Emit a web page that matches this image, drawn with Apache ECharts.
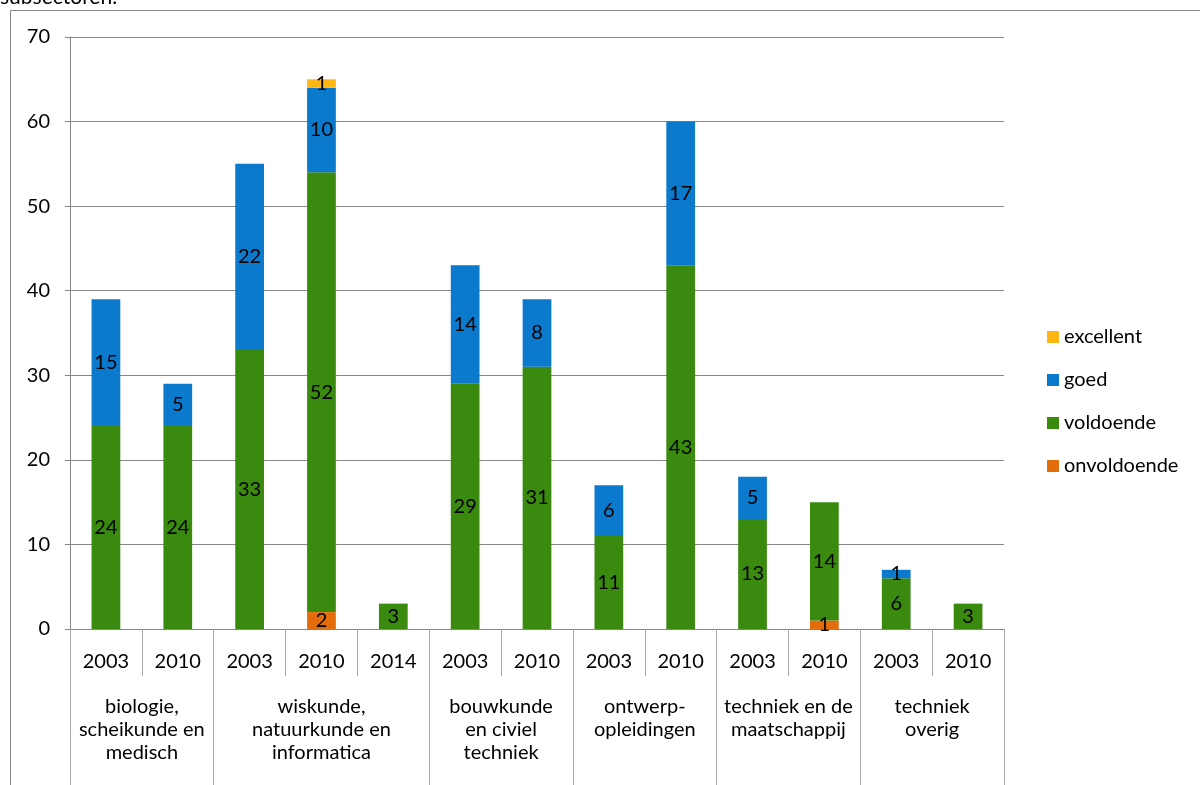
<!DOCTYPE html>
<html>
<head>
<meta charset="utf-8">
<script src="https://cdn.jsdelivr.net/npm/echarts@6/dist/echarts.min.js"></script>
<style>html,body{margin:0;padding:0;background:#fff}#c{width:1200px;height:785px}</style>
</head>
<body>
<div id="c"></div>
<script>
const years = ['2003','2010','2003','2010','2014','2003','2010','2003','2010','2003','2010','2003','2010'];
const groups = ['biologie,\nscheikunde en\nmedisch','wiskunde,\nnatuurkunde en\ninformatica','bouwkunde\nen civiel\ntechniek','ontwerp-\nopleidingen','techniek en de\nmaatschappij','techniek\noverig'];
const groupSizes = [2,3,2,2,2,2];
const onvoldoende = [null,null,null,2,null,null,null,null,null,null,1,null,null];
const voldoende   = [24,24,33,52,3,29,31,11,43,13,14,6,3];
const goed        = [15,5,22,10,null,14,8,6,17,5,null,1,null];
const excellent   = [null,null,null,1,null,null,null,null,null,null,null,null,null];
const yTicks = [0,10,20,30,40,50,60,70];

const FONT = 'Lato';
const FS = 20;
const chart = echarts.init(document.getElementById('c'));

const bounds = [0]; const centers = [];
groupSizes.forEach(s => { const b = bounds[bounds.length-1]; centers.push(b + s/2); bounds.push(b + s); });

function mk(name, data, color) {
  return {
    name, type: 'bar', stack: 'a', data, barWidth: '40%',
    itemStyle: { color },
    label: { show: true, position: 'inside', color: '#000', fontFamily: FONT, fontSize: FS,
      formatter: p => (p.value == null ? '' : p.value) }
  };
}

chart.setOption({
  animation: false,
  textStyle: { fontFamily: FONT },
  graphic: [
    { type: 'rect', shape: { x: 10.5, y: 10.5, width: 1250, height: 800 }, style: { fill: 'none', stroke: '#868686', lineWidth: 1 }, silent: true },
    { type: 'text', x: 0, y: -13, style: { text: 'subsectoren.', fontFamily: FONT, fontSize: 21, fill: '#000' } }
  ],
  grid: { left: 70, right: 196, top: 37, bottom: 156 },
  legend: {
    orient: 'vertical', left: 1042, top: 322, itemWidth: 12, itemHeight: 12, itemGap: 23,
    icon: 'rect', textStyle: { fontFamily: FONT, fontSize: FS, color: '#000' },
    data: ['excellent','goed','voldoende','onvoldoende']
  },
  xAxis: [
    { type: 'category', data: years, position: 'bottom',
      axisLine: { lineStyle: { color: '#868686' } },
      axisTick: { show: true, length: 47, interval: 0, lineStyle: { color: '#a6a6a6' } },
      axisLabel: { interval: 0, margin: 23, color: '#000', fontFamily: FONT, fontSize: FS } },
    { type: 'value', min: 0, max: years.length, position: 'bottom',
      axisLine: { show: false },
      splitLine: { show: false },
      axisTick: { show: true, customValues: bounds, length: 156, lineStyle: { color: '#a6a6a6' } },
      axisLabel: { customValues: centers, margin: 66, color: '#000', fontFamily: FONT, fontSize: FS, lineHeight: 23,
        align: 'center', verticalAlign: 'top',
        formatter: v => { const i = centers.indexOf(v); return i >= 0 ? groups[i] : ''; } } }
  ],
  yAxis: {
    type: 'value', min: 0, max: 70, interval: 10,
    axisLine: { show: true, lineStyle: { color: '#868686' } },
    axisTick: { show: true, length: 5, lineStyle: { color: '#868686' } },
    splitLine: { lineStyle: { color: '#868686' } },
    axisLabel: { margin: 20, color: '#000', fontFamily: FONT, fontSize: FS,
      formatter: v => (yTicks.includes(v) ? String(v) : '') }
  },
  series: [
    mk('onvoldoende', onvoldoende, '#E46C0A'),
    mk('voldoende', voldoende, '#3A8A10'),
    mk('goed', goed, '#0B7ACC'),
    mk('excellent', excellent, '#FFB612')
  ]
});
</script>
</body>
</html>
